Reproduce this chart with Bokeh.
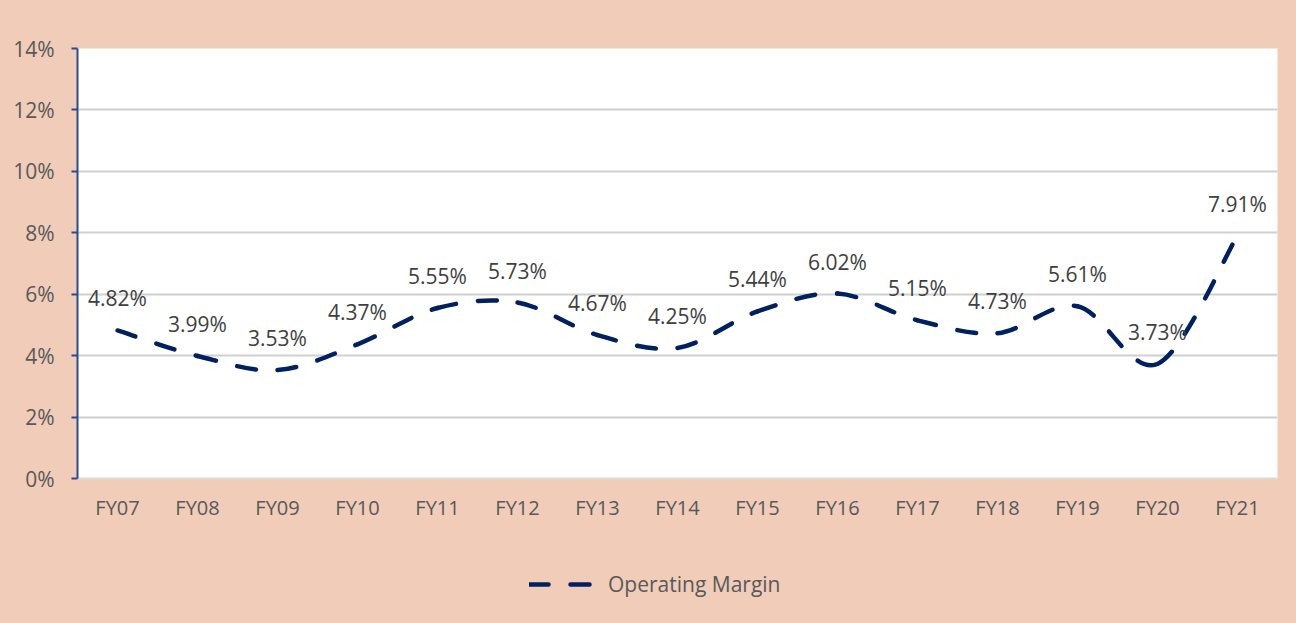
import numpy as np
from bokeh.plotting import figure
from bokeh.layouts import column
from bokeh.models import FixedTicker, Legend, LegendItem, ColumnDataSource
from bokeh.core.properties import value
from bokeh.embed import file_html
from bokeh.resources import INLINE

categories = ["FY07", "FY08", "FY09", "FY10", "FY11", "FY12", "FY13", "FY14",
              "FY15", "FY16", "FY17", "FY18", "FY19", "FY20", "FY21"]
operating_margin = [4.82, 3.99, 3.53, 4.37, 5.55, 5.73, 4.67, 4.25,
                    5.44, 6.02, 5.15, 4.73, 5.61, 3.73, 7.91]
y_ticks = [0, 2, 4, 6, 8, 10, 12, 14]
series_name = "Operating Margin"

PEACH = "#F0CCB9"
NAVY = "#002060"
FONT = "Open Sans"
LINE_KW = dict(line_color=NAVY, line_width=4.5, line_dash="19 22", line_cap="round")

xs = np.arange(len(categories), dtype=float)
ys = np.array(operating_margin, dtype=float)
n = len(xs)

# smoothed (Catmull-Rom style) bezier segments through the data points
x0, y0, x1, y1, cx0, cy0, cx1, cy1 = [], [], [], [], [], [], [], []
for i in range(n - 1):
    a = max(i - 1, 0)
    d = min(i + 2, n - 1)
    x0.append(xs[i]); y0.append(ys[i])
    x1.append(xs[i + 1]); y1.append(ys[i + 1])
    cx0.append(xs[i] + (xs[i + 1] - xs[a]) / 6.0)
    cy0.append(ys[i] + (ys[i + 1] - ys[a]) / 6.0)
    cx1.append(xs[i + 1] - (xs[d] - xs[i]) / 6.0)
    cy1.append(ys[i + 1] - (ys[d] - ys[i]) / 6.0)

p = figure(width=1296, height=530, output_backend="svg", toolbar_location=None,
           x_range=(-0.5, n - 0.5), y_range=(0, 14),
           min_border_left=77, min_border_right=19, min_border_top=48, min_border_bottom=52)
p.background_fill_color = "white"
p.border_fill_color = PEACH
p.outline_line_color = None

p.bezier(x0=x0, y0=y0, x1=x1, y1=y1, cx0=cx0, cy0=cy0, cx1=cx1, cy1=cy1, **LINE_KW)

src = ColumnDataSource(dict(x=xs, y=ys, t=[f"{v:.2f}%" for v in operating_margin]))
p.text(x="x", y="y", text="t", source=src, y_offset=-32,
       text_align="center", text_baseline="middle",
       text_font=value(FONT), text_font_size="21px", text_color="#404040")

# axes
p.xaxis.ticker = FixedTicker(ticks=list(xs))
p.xaxis.major_label_overrides = {float(i): c for i, c in enumerate(categories)}
p.xaxis.major_tick_line_color = None
p.xaxis.minor_tick_line_color = None
p.xaxis.axis_line_color = "#D9D9D9"
p.xaxis.axis_line_width = 2
p.xaxis.major_label_standoff = 9
p.xaxis.major_label_text_font = FONT
p.xaxis.major_label_text_font_size = "20px"
p.xaxis.major_label_text_color = "#595959"

p.yaxis.ticker = FixedTicker(ticks=y_ticks)
p.yaxis.major_label_overrides = {t: f"{t}%" for t in y_ticks}
p.yaxis.axis_line_color = "#2E4A8E"
p.yaxis.axis_line_width = 2
p.yaxis.major_tick_line_color = "#2E4A8E"
p.yaxis.major_tick_line_width = 2
p.yaxis.major_tick_out = 6
p.yaxis.major_tick_in = 0
p.yaxis.minor_tick_line_color = None
p.yaxis.major_label_standoff = 17
p.yaxis.major_label_text_font = FONT
p.yaxis.major_label_text_font_size = "21px"
p.yaxis.major_label_text_color = "#595959"

p.xgrid.grid_line_color = None
p.ygrid.grid_line_color = "#D0D0D0"
p.ygrid.grid_line_width = 2
p.ygrid.ticker = FixedTicker(ticks=y_ticks)

# legend strip below the chart (the series is drawn off-range here, only its key shows)
lg = figure(width=1296, height=93, output_backend="svg", toolbar_location=None,
            x_range=(-0.5, n - 0.5), y_range=(-2, -1), x_axis_type=None, y_axis_type=None,
            min_border=0)
lg.background_fill_color = PEACH
lg.border_fill_color = PEACH
lg.outline_line_color = None
lg.grid.grid_line_color = None
key = lg.line(x=xs, y=ys, **LINE_KW)

legend = Legend(items=[LegendItem(label=series_name, renderers=[key])],
                location=(452, 25), orientation="horizontal")
legend.background_fill_alpha = 0
legend.border_line_color = None
legend.label_text_font = FONT
legend.label_text_font_size = "21px"
legend.label_text_color = "#595959"
legend.glyph_width = 67
legend.glyph_height = 20
legend.label_standoff = 12
legend.padding = 10
legend.margin = 0
lg.add_layout(legend, "center")

layout = column(p, lg, spacing=0)

tmpl = "{% block postamble %}<style>html, body { background-color: #F0CCB9; }</style>{% endblock %}"
open("out.html", "w").write(file_html(layout, INLINE, template=tmpl))
